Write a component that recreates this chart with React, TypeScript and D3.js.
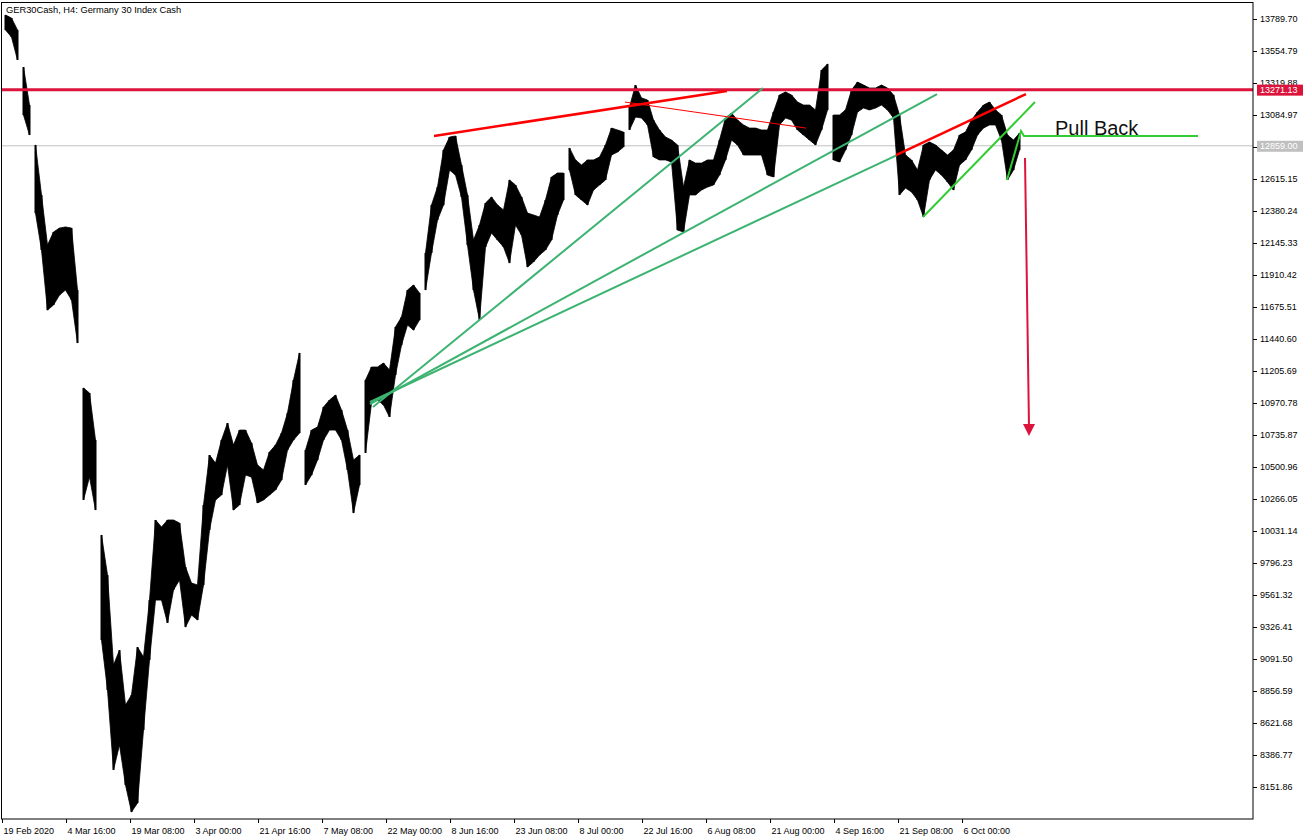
import React from "react";
import * as d3 from "d3";

// Daily high / low (6 H4 bars per day)
const dayHigh = [
  13819, 13797, 13709, 13437, 13158, 12865, 12498, 12130, 12226, 12255,
  12263, 12255, 11800, 11081, 11044, 10699, 10002, 9708, 9047, 9157,
  8754, 8827, 9179, 9106, 9524, 10112, 10060, 10112, 10112, 10090,
  9767, 9649, 9635, 10222, 10589, 10530, 10699, 10824, 10662, 10772,
  10772, 10677, 10515, 10479, 10611, 10662, 10750, 10897, 11139, 11338,
  10625, 10772, 10794, 10941, 10993, 11029, 10919, 10772, 10552, 10589,
  11139, 11235, 11235, 11264, 11213, 11529, 11602, 11800, 11837, 11778,
  12072, 12424, 12556, 12828, 12923, 12931, 12718, 12498, 12167, 12277,
  12439, 12483, 12424, 12388, 12608, 12571, 12483, 12365, 12351, 12336,
  12461, 12630, 12659, 12659, 12843, 12755, 12718, 12755, 12755, 12776,
  12865, 12989, 12975, 12960, 13144, 13305, 13210, 13195, 13048, 12975,
  12923, 12901, 12865, 12556, 12755, 12732, 12732, 12755, 12755, 12901,
  13063, 13099, 13048, 13012, 12989, 12989, 12975, 12975, 13107, 13232,
  13254, 13232, 13180, 13158, 13158, 13122, 13415, 13459, 13085, 13085,
  13122, 13268, 13327, 13305, 13283, 13283, 13305, 13283, 13232, 13085,
  12791, 12755, 12681, 12865, 12887, 12865, 12828, 12791, 12828, 12938,
  12960, 13048, 13107, 13158, 13180, 13122, 13085, 12938, 12901, 12952,
];
const dayLow = [
  13709, 13657, 13489, 13085, 12938, 12365, 12094, 11653, 11690, 11763,
  11800, 11727, 11411, 10259, 10427, 10185, 9231, 8864, 8277, 8460,
  8167, 7968, 8034, 8570, 9084, 9524, 9524, 9356, 9598, 9671,
  9326, 9414, 9378, 9635, 10038, 10259, 10295, 10515, 10185, 10222,
  10442, 10427, 10237, 10259, 10295, 10332, 10405, 10625, 10699, 10750,
  10369, 10442, 10552, 10699, 10772, 10772, 10699, 10479, 10163, 10369,
  10604, 10971, 10993, 10956, 10868, 11176, 11396, 11543, 11506, 11580,
  11800, 12072, 12314, 12424, 12681, 12644, 12483, 12130, 11800, 11580,
  12116, 12219, 12167, 12116, 11998, 12277, 12204, 11969, 12006, 12057,
  12094, 12167, 12351, 12461, 12681, 12498, 12461, 12424, 12534, 12571,
  12608, 12791, 12813, 12850, 12975, 13070, 13063, 13012, 12777, 12755,
  12755, 12740, 12240, 12226, 12498, 12498, 12534, 12556, 12571, 12644,
  12755, 12901, 12865, 12791, 12791, 12791, 12791, 12644, 12630, 13012,
  13063, 13048, 12975, 12938, 12901, 12865, 12975, 13122, 12755, 12740,
  12828, 12938, 13107, 13136, 13122, 13136, 13158, 13122, 13063, 12498,
  12549, 12520, 12461, 12336, 12608, 12681, 12644, 12593, 12534, 12718,
  12755, 12828, 12938, 12989, 13012, 13012, 12901, 12608, 12681, 12828,
];
const BARS_PER_DAY = 6;

const xTickLabels = [
  "19 Feb 2020", "4 Mar 16:00", "19 Mar 08:00", "3 Apr 00:00", "21 Apr 16:00",
  "7 May 08:00", "22 May 00:00", "8 Jun 16:00", "23 Jun 08:00", "8 Jul 00:00",
  "22 Jul 16:00", "6 Aug 08:00", "21 Aug 00:00", "4 Sep 16:00", "21 Sep 08:00",
  "6 Oct 00:00",
];
const BARS_PER_TICK = 64;

const yTickValues = [
  13789.70, 13554.79, 13319.88, 13084.97, 12850.06, 12615.15, 12380.24,
  12145.33, 11910.42, 11675.51, 11440.60, 11205.69, 10970.78, 10735.87,
  10500.96, 10266.05, 10031.14, 9796.23, 9561.32, 9326.41, 9091.50,
  8856.59, 8621.68, 8386.77, 8151.86,
];

const resistanceLevel = 13271.13;
const currentPrice = 12859.0;

// Trend lines: [barStart, priceStart, barEnd, priceEnd]
const fanLines = [
  [370, 10941, 760, 13283],
  [367, 10963, 934, 13239],
  [367, 10978, 894, 12791],
];
const redTopLine = [431, 12931, 724, 13261];
const redThinLine = [622, 13180, 803, 12989];
const wedgeUpperLine = [893, 12791, 1023, 13239];
const wedgeLowerLine = [920, 12336, 1032, 13180];
const pullBackPath = [
  [1004, 12608],
  [1018, 12967],
  [1021, 12931],
  [1195, 12931],
];
const arrowStart = [1022, 12769];
const arrowTip = [1026, 10728];
const pullBackLabel = { bar: 1052, price: 12938, text: "Pull Back" };
const title = "GER30Cash, H4:  Germany 30 Index Cash";

const FONT = "'Liberation Sans', Arial, sans-serif";
const CRIMSON = "#DC143C";

export default function App() {
  const W = 1312;
  const H = 840;
  const plotRight = 1253;
  const plotBottom = 819;

  const x = d3.scaleLinear().domain([0, 1250]).range([3, 1253]);
  const y = d3.scaleLinear().domain([8151.86, 13789.7]).range([787, 19]);

  // split into runs where consecutive day ranges overlap (gaps stay white)
  const runs: number[][] = [];
  let cur: number[] = [];
  dayHigh.forEach((hi, i) => {
    if (i > 0 && (dayLow[i - 1] > hi || dayHigh[i - 1] < dayLow[i])) {
      runs.push(cur);
      cur = [];
    }
    cur.push(i);
  });
  runs.push(cur);

  const dayX = (i: number) => x(i * BARS_PER_DAY + 2.5);
  const band = d3
    .area<number>()
    .x((i) => dayX(i))
    .y0((i) => y(dayLow[i]))
    .y1((i) => y(dayHigh[i]))
    .curve(d3.curveLinear);

  const seg = (l: number[], color: string, w: number, key: string) => (
    <line
      key={key}
      x1={x(l[0])}
      y1={y(l[1])}
      x2={x(l[2])}
      y2={y(l[3])}
      stroke={color}
      strokeWidth={w}
    />
  );

  const pbLine = d3
    .line<number[]>()
    .x((d) => x(d[0]))
    .y((d) => y(d[1]))(pullBackPath);

  const ax = x(arrowTip[0]);
  const ay = y(arrowTip[1]);

  return (
    <svg
      width={W}
      height={H}
      style={{ position: "absolute", left: 0, top: 0, background: "#fff" }}
      fontFamily={FONT}
    >
      <rect x={0} y={0} width={W} height={H} fill="#fff" />

      <line x1={2} x2={plotRight} y1={y(currentPrice)} y2={y(currentPrice)} stroke="#C0C0C0" strokeWidth={1} />

      {/* price: high-low band plus daily range bars */}
      <g fill="#000">
        {runs.map((r, k) => (
          <path key={k} d={band(r) || ""} stroke="#000" strokeWidth={0.8} />
        ))}
        {dayHigh.map((hi, i) => (
          <rect
            key={i}
            x={dayX(i) - 1}
            y={y(hi)}
            width={2}
            height={Math.max(1, y(dayLow[i]) - y(hi))}
          />
        ))}
      </g>

      <line x1={2} x2={plotRight} y1={y(resistanceLevel)} y2={y(resistanceLevel)} stroke={CRIMSON} strokeWidth={3} />

      {fanLines.map((l, i) => seg(l, "#3CB371", 2, "fan" + i))}
      {seg(redTopLine, "#FF0000", 2.5, "rt")}
      {seg(redThinLine, "#FF0000", 1, "rth")}
      {seg(wedgeUpperLine, "#FF0000", 2.5, "wu")}
      {seg(wedgeLowerLine, "#32CD32", 2, "wl")}
      <path d={pbLine || ""} fill="none" stroke="#32CD32" strokeWidth={2} />

      <line x1={x(arrowStart[0])} y1={y(arrowStart[1])} x2={ax} y2={ay - 10} stroke={CRIMSON} strokeWidth={2} />
      <polygon points={`${ax - 6},${ay - 12} ${ax + 6},${ay - 12} ${ax},${ay}`} fill={CRIMSON} />

      <text x={x(pullBackLabel.bar)} y={y(pullBackLabel.price)} fontSize={20} fill="#111">
        {pullBackLabel.text}
      </text>

      <rect x={1.5} y={2.5} width={plotRight - 1.5} height={plotBottom - 2.5} fill="none" stroke="#000" strokeWidth={1} />

      <text x={6} y={12.5} fontSize={9.3} fill="#000">{title}</text>

      <g fontSize={9} fill="#000">
        {yTickValues.map((v) => (
          <g key={v}>
            <line x1={plotRight} x2={plotRight + 4} y1={Math.round(y(v)) + 0.5} y2={Math.round(y(v)) + 0.5} stroke="#000" />
            <text x={plotRight + 7} y={y(v)} dy="0.35em">{v.toFixed(2)}</text>
          </g>
        ))}
      </g>
      {[
        { v: resistanceLevel, c: CRIMSON },
        { v: currentPrice, c: "#C0C0C0" },
      ].map((t) => (
        <g key={t.v}>
          <rect x={plotRight + 4} y={y(t.v) - 5} width={46} height={11} fill={t.c} />
          <text x={plotRight + 7} y={y(t.v)} dy="0.35em" fontSize={9} fill="#fff">{t.v.toFixed(2)}</text>
        </g>
      ))}

      <g fontSize={9} fill="#000">
        {xTickLabels.map((lab, i) => {
          const xx = Math.round(x(i * BARS_PER_TICK)) - 0.5;
          return (
            <g key={lab}>
              <line x1={xx} x2={xx} y1={plotBottom} y2={plotBottom + 4} stroke="#000" />
              <text x={xx + 1} y={834}>{lab}</text>
            </g>
          );
        })}
      </g>
    </svg>
  );
}
